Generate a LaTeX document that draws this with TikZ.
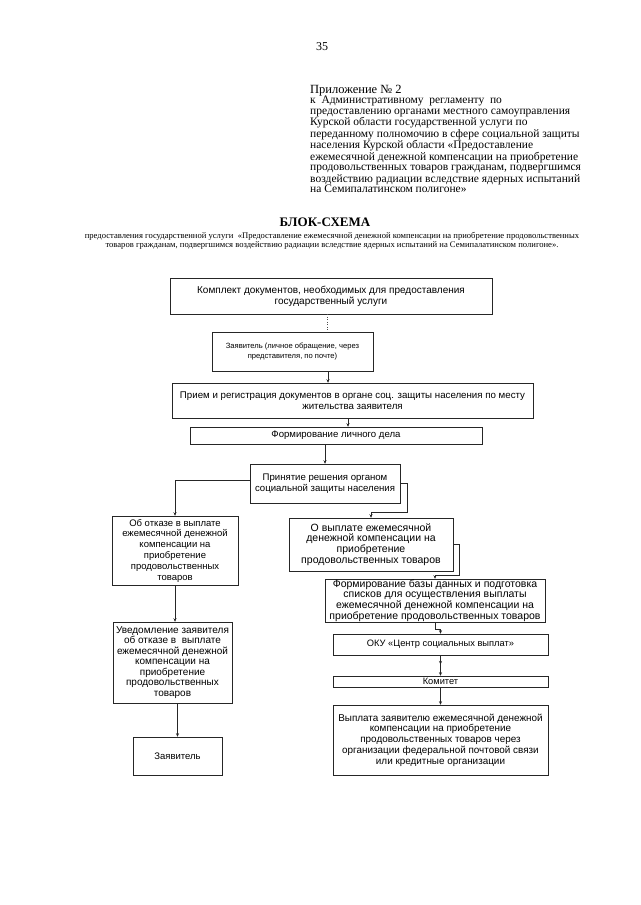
\documentclass[tikz,border=0pt]{standalone}
\usepackage{fontspec}
\setmainfont{Liberation Serif}
\newfontfamily\boxfont{Liberation Sans}
\usepackage{tikz}
\usetikzlibrary{arrows.meta}
\usetikzlibrary{decorations.markings}
\tikzstyle{stepbox} = [draw=black!85, line width=0.5pt, rectangle, inner sep=0pt,
    align=center, font=\boxfont\fontsize{9.6}{10.8}\selectfont]
\tikzset{boxfs/.style={font=\boxfont\fontsize{#1}{10.8}\selectfont}}
\tikzstyle{link} = [draw=black!85, line width=0.5pt, -{Stealth[length=3.5pt,width=3pt]}]

\begin{document}
\begin{tikzpicture}[x=1pt,y=-1pt]
\useasboundingbox[fill=white] (0,0) rectangle (640,905);

% page header
\node[font=\fontsize{12}{12}\selectfont] (page) at (322,47) {35};
\node[anchor=north west, align=left, inner sep=0pt,
      font=\fontsize{11.5}{10.3}\selectfont] (annex) at (310,85)
  {{\fontsize{12.5}{10.3}\selectfont Приложение № 2}\\
   к\ \ Административному\ \ регламенту\ \ по\\
   предоставлению органами местного самоуправления\\
   Курской области государственной услуги по\\
   переданному полномочию в сфере социальной защиты\\
   населения Курской области «Предоставление\\
   ежемесячной денежной компенсации на приобретение\\
   продовольственных товаров гражданам, подвергшимся\\
   воздействию радиации вследствие ядерных испытаний\\
   на Семипалатинском полигоне»};

\node[font=\bfseries\fontsize{13}{13}\selectfont] (title) at (325,222) {БЛОК-СХЕМА};
\node[align=center, inner sep=0pt, font=\fontsize{8.6}{9}\selectfont] (subtitle) at (332,240.5)
  {предоставления государственной услуги\ \ «Предоставление ежемесячной денежной компенсации на приобретение продовольственных\\
   товаров гражданам, подвергшимся воздействию радиации вследствие ядерных испытаний на Семипалатинском полигоне».};

% boxes
\node[stepbox, boxfs=10, minimum width=322, minimum height=36] (kompl) at (331,296)
  {Комплект документов, необходимых для предоставления\\государственный услуги};
\node[stepbox, boxfs=7.6, minimum width=161, minimum height=39] (zayav) at (292.5,351.5)
  {Заявитель (личное обращение, через\\представителя, по почте)};
\node[stepbox, boxfs=9.7, minimum width=361, minimum height=35] (priem) at (352.5,400.5)
  {Прием и регистрация документов в органе соц. защиты населения по месту\\жительства заявителя};
\node[stepbox, minimum width=292, minimum height=17] (delo) at (336,435.5)
  {Формирование личного дела};
\node[stepbox, minimum width=150, minimum height=39] (reshen) at (325,483.5)
  {Принятие решения органом\\социальной защиты населения};
\node[stepbox, boxfs=9.5, minimum width=126, minimum height=69] (otkaz) at (175,550.5)
  {Об отказе в выплате\\ежемесячной денежной\\компенсации на\\приобретение\\продовольственных\\товаров};
\node[stepbox, boxfs=10.5, minimum width=164, minimum height=53] (vyplata) at (371,544.5)
  {О выплате ежемесячной\\денежной компенсации на\\приобретение\\продовольственных товаров};
\node[stepbox, boxfs=10.5, minimum width=220, minimum height=43] (baza) at (435,600.5)
  {Формирование базы данных и подготовка\\списков для осуществления выплаты\\ежемесячной денежной компенсации на\\приобретение продовольственных товаров};
\node[stepbox, font=\boxfont\fontsize{10}{10.5}\selectfont, minimum width=119, minimum height=81] (uved) at (172.5,662.5)
  {Уведомление заявителя\\об отказе в\ \ выплате\\ежемесячной денежной\\компенсации на\\приобретение\\продовольственных\\товаров};
\node[stepbox, boxfs=9.5, minimum width=89, minimum height=38] (zayavend) at (177.5,756)
  {Заявитель};
\node[stepbox, boxfs=9.3, minimum width=215, minimum height=21] (oku) at (440.5,644.5)
  {ОКУ «Центр социальных выплат»};
\node[stepbox, boxfs=9.3, minimum width=215, minimum height=11] (komitet) at (440.5,681.5)
  {Комитет};
\node[stepbox, boxfs=9.9, minimum width=215, minimum height=70] (payout) at (440.5,740)
  {Выплата заявителю ежемесячной денежной\\компенсации на приобретение\\продовольственных товаров через\\организации федеральной почтовой связи\\или кредитные организации};

% connectors
\draw[draw=black!70, dotted, line width=0.5pt] ([xshift=-4]kompl.south) -- ([xshift=-4]kompl.south |- zayav.north);
\draw[link] ([xshift=35.5]zayav.south) -- ([xshift=35.5]zayav.south |- priem.north);
\draw[link] ([xshift=-4.5]priem.south) -- ([xshift=-4.5]priem.south |- delo.north);
\draw[link] (reshen.north |- delo.south) -- (reshen.north);
\draw[link] ([yshift=3]reshen.west) -| (otkaz.north);
\draw[link] (reshen.east) -- ++(7,0) -- ++(0,29) -| (vyplata.north);
\draw[link] (vyplata.east) -- ++(6,0) -- ++(0,30.5) -| (baza.north);
\draw[link] (baza.south) -- ++(0,7) -| (oku.north);
\draw[link, postaction={decorate}, decoration={markings,
      mark=at position 0.45 with {\arrow{Stealth[length=3.5pt,width=3pt]}}}]
  (oku.south) -- (komitet.north);
\draw[link] (komitet.south) -- (payout.north);
\draw[link] (otkaz.south) -- (otkaz.south |- uved.north);
\draw[link] (zayavend.north |- uved.south) -- (zayavend.north);

\end{tikzpicture}
\end{document}
